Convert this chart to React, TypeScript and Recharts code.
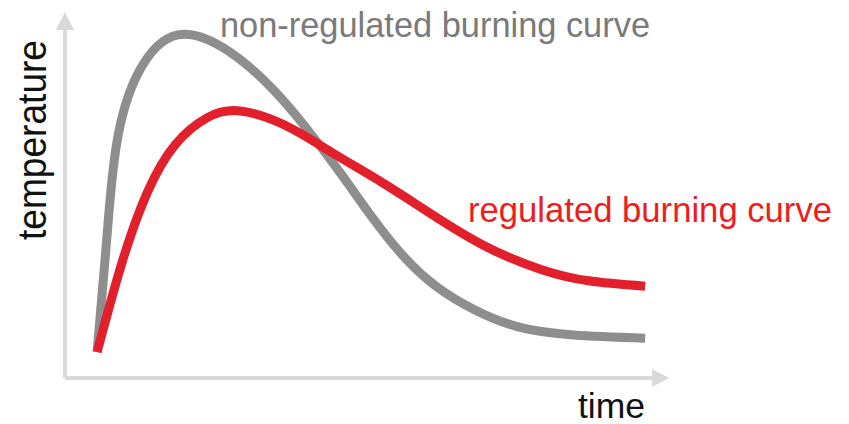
import { LineChart, Line, XAxis, YAxis, ReferenceDot, ReferenceLine } from 'recharts';

// time / temperature readings (0–100 on both axes)
const nonRegTime = [5.4, 6.3, 7.1, 8.7, 12.4, 19.0, 27.7, 35.0, 40.5, 46.1, 51.6, 57.0, 62.5, 68.9, 76.3, 85.5, 97.5];
const nonRegTemp = [7.3, 25.0, 40.7, 66.0, 86.0, 96.4, 91.6, 81.0, 70.3, 58.0, 45.2, 34.0, 25.6, 19.1, 14.3, 12.1, 11.2];

const regTime = [5.4, 9.5, 13.8, 18.5, 24.0, 29.5, 37.0, 45.0, 53.4, 61.8, 70.9, 80.0, 88.0, 97.5];
const regTemp = [7.3, 32.0, 52.0, 65.5, 73.2, 75.0, 71.0, 63.2, 54.8, 45.8, 36.8, 30.5, 27.3, 25.8];

const nonRegData = nonRegTime.map((t, i) => ({ t, v: nonRegTemp[i] }));
const regData = regTime.map((t, i) => ({ t, v: regTemp[i] }));

const AXIS = '#d9d9d9';
const GREY = '#8e8e8e';
const RED = '#e2202b';
const FONT = '"Liberation Sans", Arial, sans-serif';

// arrow tips at the end of each axis
const ArrowUp = (p: any) => (
  <polygon points={`${p.cx},${p.cy - 10} ${p.cx - 9},${p.cy + 8} ${p.cx + 9},${p.cy + 8}`} fill={AXIS} />
);
const ArrowRight = (p: any) => (
  <polygon points={`${p.cx + 9},${p.cy} ${p.cx - 8},${p.cy - 9} ${p.cx - 8},${p.cy + 9}`} fill={AXIS} />
);

export default function App() {
  return (
    <div style={{ width: 849, height: 424, background: '#fff' }}>
      <style>{'body{margin:0}'}</style>
      <LineChart width={849} height={424} margin={{ top: 22, right: 189, bottom: 46, left: 65 }}>
        <XAxis type="number" dataKey="t" domain={[0, 100]} hide />
        <YAxis type="number" dataKey="v" domain={[0, 100]} hide />
        <ReferenceLine y={0} stroke={AXIS} strokeWidth={4} ifOverflow="visible" />
        <ReferenceLine x={0} stroke={AXIS} strokeWidth={4} ifOverflow="visible" />
        <ReferenceDot x={0} y={100} r={0} shape={ArrowUp} ifOverflow="visible" />
        <ReferenceDot x={100} y={0} r={0} shape={ArrowRight} ifOverflow="visible" />
        <Line
          data={nonRegData}
          dataKey="v"
          type="natural"
          stroke={GREY}
          strokeWidth={9}
          dot={false}
          isAnimationActive={false}
        />
        <Line
          data={regData}
          dataKey="v"
          type="natural"
          stroke={RED}
          strokeWidth={9}
          dot={false}
          isAnimationActive={false}
        />
        <text x={220} y={37} fontFamily={FONT} fontSize={35} fill="#7a7a7a" textLength={430} lengthAdjust="spacingAndGlyphs">
          non-regulated burning curve
        </text>
        <text x={468} y={222} fontFamily={FONT} fontSize={35} fill="#ee1c1c" textLength={364} lengthAdjust="spacingAndGlyphs">
          regulated burning curve
        </text>
        <text x={578} y={418} fontFamily={FONT} fontSize={35} fill="#111" textLength={67} lengthAdjust="spacingAndGlyphs">
          time
        </text>
        <text
          x={0}
          y={0}
          transform="translate(46,240) rotate(-90)"
          fontFamily={FONT}
          fontSize={40}
          fill="#111"
          textLength={200}
          lengthAdjust="spacingAndGlyphs"
        >
          temperature
        </text>
      </LineChart>
    </div>
  );
}
